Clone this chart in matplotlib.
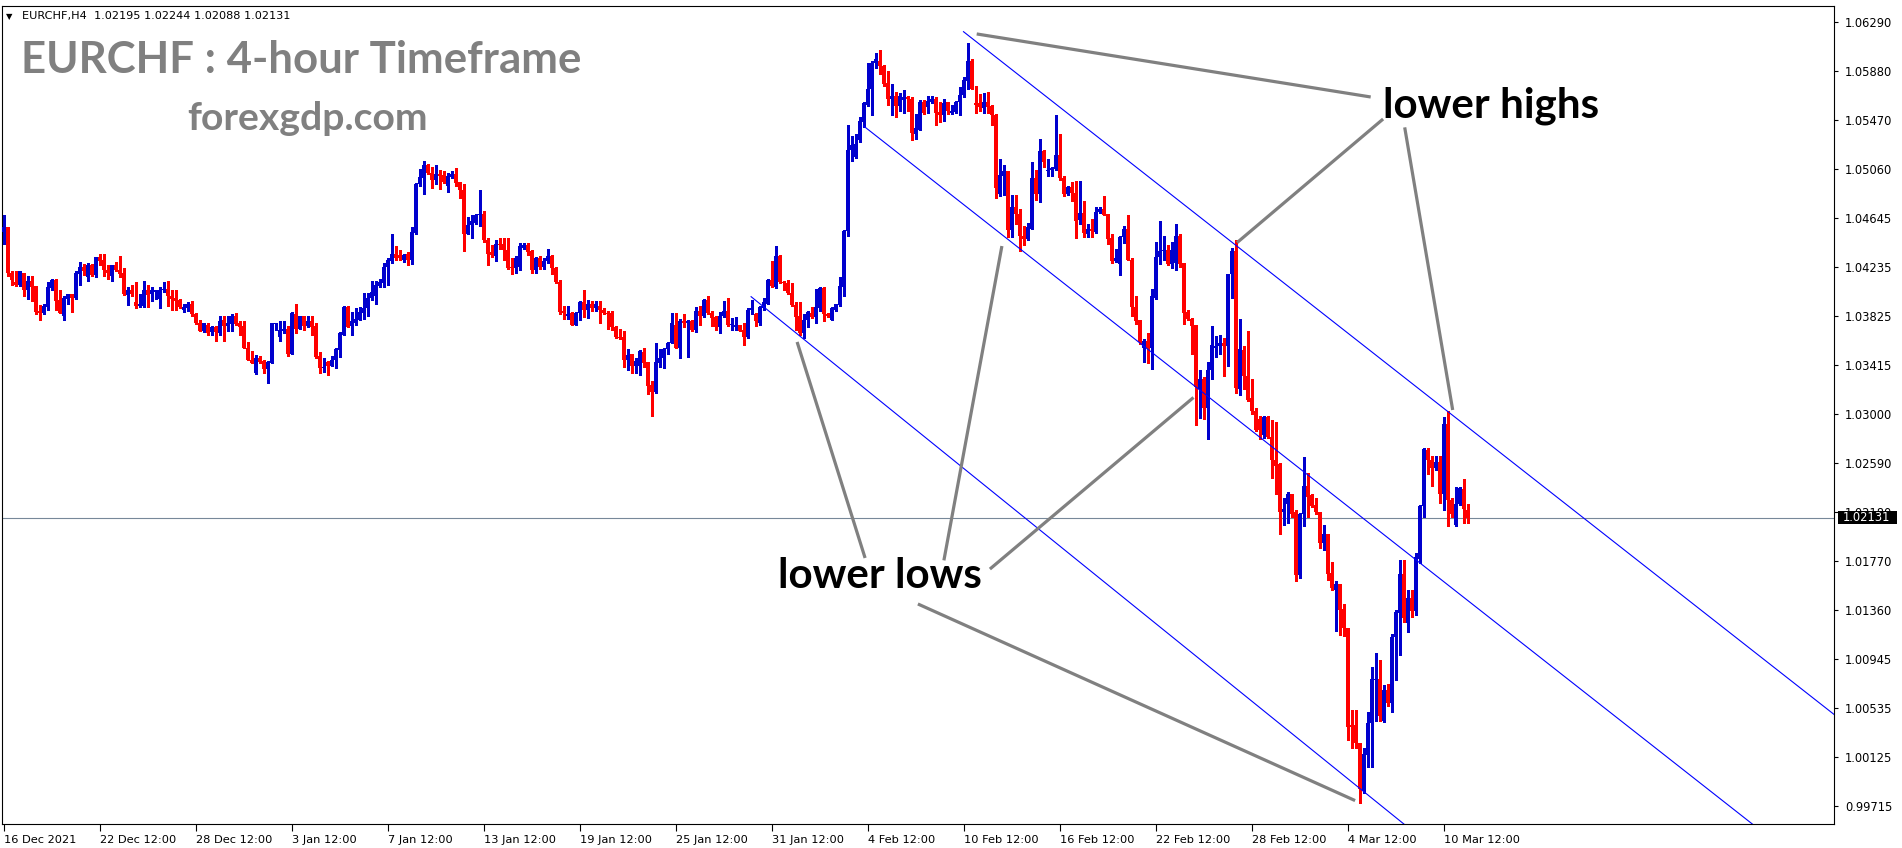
import numpy as np
import matplotlib
matplotlib.use('Agg')
import matplotlib.pyplot as plt
import matplotlib.transforms as mtransforms
from matplotlib.patches import Rectangle

# EURCHF H4 bars, oldest first
opens = [
    1.0453, 1.0457, 1.0419, 1.0411, 1.0409, 1.0419, 1.0404, 1.0412, 1.0408, 1.0387,
    1.0385, 1.0390, 1.0406, 1.0413, 1.0396, 1.0383, 1.0397, 1.0401, 1.0398, 1.0418,
    1.0424, 1.0415, 1.0425, 1.0417, 1.0432, 1.0430, 1.0421, 1.0416, 1.0425, 1.0421,
    1.0419, 1.0400, 1.0404, 1.0394, 1.0391, 1.0391, 1.0404, 1.0401, 1.0403, 1.0397,
    1.0404, 1.0405, 1.0399, 1.0398, 1.0396, 1.0388, 1.0389, 1.0393, 1.0384, 1.0377,
    1.0370, 1.0375, 1.0369, 1.0373, 1.0368, 1.0379, 1.0374, 1.0376, 1.0383, 1.0377,
    1.0374, 1.0356, 1.0346, 1.0335, 1.0347, 1.0345, 1.0338, 1.0343, 1.0376, 1.0365,
    1.0370, 1.0372, 1.0351, 1.0384, 1.0372, 1.0383, 1.0374, 1.0378, 1.0374, 1.0349,
    1.0339, 1.0344, 1.0341, 1.0346, 1.0354, 1.0367, 1.0390, 1.0374, 1.0377, 1.0379,
    1.0385, 1.0389, 1.0398, 1.0399, 1.0408, 1.0410, 1.0424, 1.0429, 1.0435, 1.0434,
    1.0430, 1.0435, 1.0430, 1.0452, 1.0493, 1.0498, 1.0509, 1.0503, 1.0497, 1.0502,
    1.0501, 1.0492, 1.0499, 1.0502, 1.0495, 1.0488, 1.0451, 1.0459, 1.0461, 1.0467,
    1.0468, 1.0446, 1.0436, 1.0433, 1.0443, 1.0443, 1.0438, 1.0424, 1.0423, 1.0424,
    1.0440, 1.0442, 1.0437, 1.0421, 1.0431, 1.0424, 1.0429, 1.0433, 1.0423, 1.0411,
    1.0387, 1.0383, 1.0385, 1.0375, 1.0385, 1.0394, 1.0388, 1.0393, 1.0389, 1.0391,
    1.0388, 1.0385, 1.0385, 1.0373, 1.0365, 1.0365, 1.0346, 1.0351, 1.0341, 1.0341,
    1.0352, 1.0344, 1.0325, 1.0319, 1.0343, 1.0347, 1.0355, 1.0360, 1.0375, 1.0356,
    1.0378, 1.0377, 1.0378, 1.0371, 1.0387, 1.0383, 1.0396, 1.0385, 1.0382, 1.0373,
    1.0383, 1.0387, 1.0375, 1.0373, 1.0375, 1.0371, 1.0365, 1.0388, 1.0384, 1.0377,
    1.0389, 1.0393, 1.0413, 1.0407, 1.0433, 1.0411, 1.0410, 1.0402, 1.0392, 1.0383,
    1.0368, 1.0379, 1.0385, 1.0382, 1.0389, 1.0406, 1.0384, 1.0379, 1.0388, 1.0392,
    1.0407, 1.0454, 1.0522, 1.0516, 1.0530, 1.0545, 1.0560, 1.0573, 1.0595, 1.0597,
    1.0592, 1.0578, 1.0565, 1.0567, 1.0559, 1.0564, 1.0566, 1.0565, 1.0535, 1.0539,
    1.0562, 1.0558, 1.0562, 1.0565, 1.0554, 1.0551, 1.0562, 1.0553, 1.0554, 1.0562,
    1.0568, 1.0580, 1.0597, 1.0561, 1.0561, 1.0557, 1.0562, 1.0559, 1.0551, 1.0485,
    1.0500, 1.0504, 1.0455, 1.0474, 1.0468, 1.0450, 1.0447, 1.0456, 1.0498, 1.0485,
    1.0521, 1.0504, 1.0505, 1.0506, 1.0518, 1.0498, 1.0485, 1.0491, 1.0486, 1.0463,
    1.0469, 1.0451, 1.0456, 1.0453, 1.0470, 1.0472, 1.0468, 1.0448, 1.0429, 1.0426,
    1.0449, 1.0456, 1.0430, 1.0390, 1.0379, 1.0356, 1.0362, 1.0356, 1.0398, 1.0432,
    1.0437, 1.0438, 1.0426, 1.0427, 1.0450, 1.0427, 1.0386, 1.0380, 1.0375, 1.0321,
    1.0330, 1.0305, 1.0337, 1.0356, 1.0357, 1.0360, 1.0357, 1.0418, 1.0437, 1.0321,
    1.0354, 1.0332, 1.0314, 1.0303, 1.0296, 1.0283, 1.0298, 1.0281, 1.0262, 1.0258,
    1.0218, 1.0225, 1.0233, 1.0218, 1.0165, 1.0216, 1.0240, 1.0232, 1.0224, 1.0218,
    1.0192, 1.0200, 1.0167, 1.0153, 1.0158, 1.0137, 1.0121, 1.0039, 1.0039, 1.0024,
    0.9984, 1.0014, 1.0041, 1.0077, 1.0078, 1.0043, 1.0069, 1.0058, 1.0113, 1.0133,
    1.0166, 1.0125, 1.0146, 1.0135, 1.0179, 1.0223, 1.0270, 1.0262, 1.0255, 1.0260,
    1.0233, 1.0292, 1.0228, 1.0207, 1.0225, 1.0237, 1.02195,
]
highs = [
    1.0467, 1.0457, 1.0420, 1.0420, 1.0420, 1.0419, 1.0416, 1.0416, 1.0408, 1.0392,
    1.0393, 1.0411, 1.0414, 1.0414, 1.0404, 1.0399, 1.0401, 1.0401, 1.0420, 1.0428,
    1.0426, 1.0427, 1.0426, 1.0432, 1.0435, 1.0435, 1.0425, 1.0425, 1.0428, 1.0433,
    1.0423, 1.0407, 1.0409, 1.0411, 1.0401, 1.0412, 1.0409, 1.0407, 1.0404, 1.0407,
    1.0411, 1.0412, 1.0404, 1.0404, 1.0397, 1.0393, 1.0394, 1.0395, 1.0385, 1.0379,
    1.0377, 1.0377, 1.0374, 1.0374, 1.0383, 1.0383, 1.0383, 1.0384, 1.0385, 1.0378,
    1.0378, 1.0361, 1.0353, 1.0350, 1.0349, 1.0346, 1.0345, 1.0377, 1.0377, 1.0378,
    1.0378, 1.0374, 1.0386, 1.0393, 1.0383, 1.0383, 1.0383, 1.0383, 1.0377, 1.0352,
    1.0347, 1.0345, 1.0349, 1.0356, 1.0369, 1.0391, 1.0391, 1.0386, 1.0389, 1.0390,
    1.0402, 1.0402, 1.0412, 1.0412, 1.0414, 1.0427, 1.0431, 1.0451, 1.0441, 1.0438,
    1.0435, 1.0436, 1.0457, 1.0494, 1.0506, 1.0513, 1.0510, 1.0508, 1.0509, 1.0505,
    1.0504, 1.0503, 1.0504, 1.0507, 1.0495, 1.0493, 1.0466, 1.0467, 1.0468, 1.0488,
    1.0471, 1.0448, 1.0442, 1.0446, 1.0448, 1.0448, 1.0448, 1.0431, 1.0433, 1.0444,
    1.0444, 1.0444, 1.0438, 1.0432, 1.0433, 1.0431, 1.0439, 1.0434, 1.0424, 1.0413,
    1.0391, 1.0391, 1.0386, 1.0386, 1.0395, 1.0404, 1.0396, 1.0395, 1.0395, 1.0395,
    1.0389, 1.0387, 1.0387, 1.0374, 1.0372, 1.0370, 1.0355, 1.0351, 1.0347, 1.0354,
    1.0356, 1.0344, 1.0328, 1.0360, 1.0355, 1.0356, 1.0361, 1.0385, 1.0385, 1.0380,
    1.0384, 1.0379, 1.0379, 1.0390, 1.0391, 1.0397, 1.0399, 1.0387, 1.0383, 1.0386,
    1.0395, 1.0398, 1.0381, 1.0382, 1.0375, 1.0377, 1.0389, 1.0396, 1.0385, 1.0391,
    1.0398, 1.0414, 1.0429, 1.0441, 1.0434, 1.0412, 1.0413, 1.0410, 1.0394, 1.0394,
    1.0384, 1.0387, 1.0390, 1.0405, 1.0407, 1.0407, 1.0385, 1.0390, 1.0393, 1.0415,
    1.0455, 1.0543, 1.0534, 1.0535, 1.0550, 1.0562, 1.0595, 1.0597, 1.0603, 1.0606,
    1.0593, 1.0588, 1.0577, 1.0571, 1.0570, 1.0572, 1.0567, 1.0566, 1.0552, 1.0564,
    1.0564, 1.0567, 1.0567, 1.0566, 1.0562, 1.0565, 1.0562, 1.0560, 1.0563, 1.0575,
    1.0583, 1.0612, 1.0598, 1.0576, 1.0569, 1.0570, 1.0571, 1.0560, 1.0552, 1.0514,
    1.0509, 1.0504, 1.0484, 1.0484, 1.0472, 1.0458, 1.0461, 1.0512, 1.0505, 1.0531,
    1.0522, 1.0514, 1.0508, 1.0551, 1.0535, 1.0500, 1.0492, 1.0495, 1.0496, 1.0496,
    1.0479, 1.0460, 1.0464, 1.0474, 1.0474, 1.0483, 1.0468, 1.0451, 1.0439, 1.0450,
    1.0458, 1.0467, 1.0431, 1.0399, 1.0379, 1.0363, 1.0368, 1.0405, 1.0445, 1.0462,
    1.0450, 1.0442, 1.0445, 1.0460, 1.0451, 1.0427, 1.0388, 1.0381, 1.0375, 1.0337,
    1.0331, 1.0344, 1.0374, 1.0366, 1.0367, 1.0364, 1.0418, 1.0440, 1.0446, 1.0380,
    1.0357, 1.0370, 1.0330, 1.0305, 1.0299, 1.0299, 1.0299, 1.0295, 1.0294, 1.0259,
    1.0230, 1.0235, 1.0233, 1.0220, 1.0217, 1.0264, 1.0251, 1.0233, 1.0230, 1.0218,
    1.0207, 1.0200, 1.0176, 1.0160, 1.0158, 1.0141, 1.0121, 1.0052, 1.0052, 1.0024,
    1.0020, 1.0050, 1.0088, 1.0100, 1.0094, 1.0073, 1.0074, 1.0116, 1.0136, 1.0178,
    1.0178, 1.0153, 1.0153, 1.0184, 1.0224, 1.0272, 1.0272, 1.0265, 1.0265, 1.0265,
    1.0298, 1.0303, 1.0230, 1.0239, 1.0239, 1.0246, 1.02244,
]
lows = [
    1.0443, 1.0416, 1.0409, 1.0408, 1.0408, 1.0399, 1.0397, 1.0395, 1.0384, 1.0379,
    1.0384, 1.0388, 1.0404, 1.0388, 1.0385, 1.0379, 1.0393, 1.0386, 1.0397, 1.0409,
    1.0417, 1.0412, 1.0416, 1.0415, 1.0425, 1.0416, 1.0414, 1.0412, 1.0420, 1.0415,
    1.0400, 1.0392, 1.0399, 1.0389, 1.0390, 1.0390, 1.0390, 1.0395, 1.0397, 1.0389,
    1.0403, 1.0391, 1.0388, 1.0388, 1.0389, 1.0386, 1.0387, 1.0383, 1.0376, 1.0370,
    1.0369, 1.0367, 1.0367, 1.0362, 1.0367, 1.0362, 1.0370, 1.0370, 1.0375, 1.0367,
    1.0356, 1.0346, 1.0343, 1.0334, 1.0343, 1.0335, 1.0326, 1.0343, 1.0371, 1.0362,
    1.0368, 1.0349, 1.0351, 1.0368, 1.0372, 1.0371, 1.0373, 1.0367, 1.0347, 1.0335,
    1.0336, 1.0333, 1.0341, 1.0339, 1.0348, 1.0367, 1.0373, 1.0367, 1.0375, 1.0379,
    1.0380, 1.0383, 1.0396, 1.0393, 1.0407, 1.0407, 1.0409, 1.0427, 1.0430, 1.0430,
    1.0428, 1.0425, 1.0426, 1.0451, 1.0492, 1.0485, 1.0502, 1.0490, 1.0493, 1.0489,
    1.0494, 1.0487, 1.0498, 1.0492, 1.0482, 1.0437, 1.0451, 1.0448, 1.0460, 1.0458,
    1.0445, 1.0425, 1.0432, 1.0429, 1.0439, 1.0430, 1.0422, 1.0418, 1.0419, 1.0421,
    1.0439, 1.0434, 1.0419, 1.0419, 1.0422, 1.0422, 1.0427, 1.0418, 1.0410, 1.0384,
    1.0380, 1.0380, 1.0375, 1.0375, 1.0379, 1.0382, 1.0381, 1.0387, 1.0387, 1.0377,
    1.0384, 1.0372, 1.0371, 1.0364, 1.0363, 1.0340, 1.0337, 1.0335, 1.0335, 1.0333,
    1.0340, 1.0317, 1.0299, 1.0318, 1.0340, 1.0339, 1.0351, 1.0360, 1.0356, 1.0347,
    1.0373, 1.0348, 1.0370, 1.0369, 1.0375, 1.0382, 1.0384, 1.0374, 1.0371, 1.0368,
    1.0382, 1.0374, 1.0371, 1.0371, 1.0370, 1.0358, 1.0364, 1.0384, 1.0374, 1.0375,
    1.0388, 1.0393, 1.0407, 1.0406, 1.0410, 1.0404, 1.0401, 1.0391, 1.0371, 1.0367,
    1.0364, 1.0373, 1.0381, 1.0377, 1.0387, 1.0378, 1.0382, 1.0379, 1.0387, 1.0391,
    1.0399, 1.0450, 1.0513, 1.0515, 1.0529, 1.0541, 1.0559, 1.0551, 1.0591, 1.0586,
    1.0576, 1.0560, 1.0551, 1.0550, 1.0555, 1.0553, 1.0555, 1.0530, 1.0531, 1.0539,
    1.0552, 1.0553, 1.0561, 1.0543, 1.0545, 1.0546, 1.0552, 1.0552, 1.0553, 1.0551,
    1.0566, 1.0573, 1.0573, 1.0553, 1.0555, 1.0553, 1.0553, 1.0543, 1.0482, 1.0483,
    1.0484, 1.0449, 1.0449, 1.0460, 1.0437, 1.0442, 1.0446, 1.0456, 1.0480, 1.0478,
    1.0508, 1.0500, 1.0500, 1.0505, 1.0497, 1.0483, 1.0484, 1.0479, 1.0448, 1.0460,
    1.0449, 1.0449, 1.0449, 1.0452, 1.0469, 1.0467, 1.0443, 1.0427, 1.0428, 1.0417,
    1.0444, 1.0430, 1.0383, 1.0376, 1.0359, 1.0344, 1.0343, 1.0338, 1.0397, 1.0426,
    1.0430, 1.0425, 1.0423, 1.0421, 1.0424, 1.0376, 1.0379, 1.0351, 1.0291, 1.0297,
    1.0296, 1.0279, 1.0330, 1.0348, 1.0351, 1.0332, 1.0341, 1.0398, 1.0318, 1.0316,
    1.0321, 1.0311, 1.0300, 1.0286, 1.0279, 1.0280, 1.0280, 1.0247, 1.0233, 1.0200,
    1.0207, 1.0209, 1.0214, 1.0160, 1.0163, 1.0206, 1.0214, 1.0222, 1.0216, 1.0188,
    1.0186, 1.0161, 1.0153, 1.0118, 1.0115, 1.0114, 1.0027, 1.0020, 1.0020, 0.9974,
    0.9982, 1.0004, 1.0004, 1.0043, 1.0043, 1.0042, 1.0055, 1.0050, 1.0077, 1.0098,
    1.0126, 1.0117, 1.0130, 1.0132, 1.0175, 1.0214, 1.0250, 1.0240, 1.0253, 1.0226,
    1.0220, 1.0206, 1.0214, 1.0206, 1.0224, 1.0209, 1.02088,
]
closes = [
    1.0457, 1.0419, 1.0413, 1.0409, 1.0420, 1.0404, 1.0412, 1.0407, 1.0386, 1.0385,
    1.0391, 1.0407, 1.0413, 1.0395, 1.0385, 1.0398, 1.0401, 1.0398, 1.0419, 1.0424,
    1.0420, 1.0425, 1.0417, 1.0432, 1.0429, 1.0421, 1.0419, 1.0425, 1.0421, 1.0418,
    1.0401, 1.0404, 1.0401, 1.0391, 1.0393, 1.0404, 1.0400, 1.0404, 1.0404, 1.0404,
    1.0405, 1.0399, 1.0397, 1.0395, 1.0390, 1.0390, 1.0393, 1.0384, 1.0377, 1.0370,
    1.0377, 1.0368, 1.0373, 1.0369, 1.0378, 1.0374, 1.0377, 1.0383, 1.0376, 1.0373,
    1.0356, 1.0346, 1.0343, 1.0347, 1.0344, 1.0338, 1.0344, 1.0377, 1.0377, 1.0371,
    1.0372, 1.0351, 1.0385, 1.0372, 1.0383, 1.0374, 1.0378, 1.0373, 1.0348, 1.0339,
    1.0340, 1.0341, 1.0346, 1.0355, 1.0368, 1.0390, 1.0373, 1.0378, 1.0380, 1.0386,
    1.0389, 1.0398, 1.0403, 1.0409, 1.0411, 1.0424, 1.0430, 1.0435, 1.0431, 1.0431,
    1.0434, 1.0430, 1.0453, 1.0493, 1.0499, 1.0509, 1.0503, 1.0497, 1.0502, 1.0500,
    1.0495, 1.0500, 1.0502, 1.0494, 1.0488, 1.0451, 1.0459, 1.0462, 1.0467, 1.0468,
    1.0446, 1.0435, 1.0434, 1.0443, 1.0442, 1.0438, 1.0423, 1.0423, 1.0431, 1.0441,
    1.0442, 1.0436, 1.0421, 1.0431, 1.0424, 1.0429, 1.0433, 1.0423, 1.0411, 1.0386,
    1.0385, 1.0384, 1.0375, 1.0385, 1.0394, 1.0388, 1.0393, 1.0389, 1.0393, 1.0388,
    1.0385, 1.0384, 1.0373, 1.0365, 1.0364, 1.0346, 1.0350, 1.0341, 1.0345, 1.0353,
    1.0343, 1.0324, 1.0319, 1.0344, 1.0347, 1.0355, 1.0360, 1.0377, 1.0356, 1.0378,
    1.0377, 1.0378, 1.0371, 1.0387, 1.0383, 1.0396, 1.0385, 1.0381, 1.0373, 1.0383,
    1.0387, 1.0375, 1.0376, 1.0375, 1.0370, 1.0365, 1.0388, 1.0389, 1.0378, 1.0390,
    1.0394, 1.0413, 1.0408, 1.0433, 1.0411, 1.0410, 1.0402, 1.0392, 1.0382, 1.0368,
    1.0379, 1.0386, 1.0382, 1.0390, 1.0406, 1.0384, 1.0383, 1.0389, 1.0393, 1.0408,
    1.0454, 1.0522, 1.0526, 1.0527, 1.0546, 1.0561, 1.0573, 1.0595, 1.0598, 1.0592,
    1.0577, 1.0565, 1.0567, 1.0559, 1.0567, 1.0566, 1.0565, 1.0536, 1.0540, 1.0562,
    1.0553, 1.0563, 1.0565, 1.0553, 1.0551, 1.0561, 1.0555, 1.0555, 1.0562, 1.0568,
    1.0581, 1.0597, 1.0573, 1.0560, 1.0558, 1.0562, 1.0558, 1.0551, 1.0490, 1.0501,
    1.0504, 1.0455, 1.0474, 1.0468, 1.0450, 1.0447, 1.0457, 1.0498, 1.0485, 1.0521,
    1.0512, 1.0505, 1.0507, 1.0518, 1.0498, 1.0485, 1.0491, 1.0486, 1.0462, 1.0469,
    1.0452, 1.0456, 1.0454, 1.0470, 1.0472, 1.0467, 1.0447, 1.0429, 1.0431, 1.0449,
    1.0456, 1.0430, 1.0390, 1.0378, 1.0361, 1.0362, 1.0356, 1.0399, 1.0432, 1.0437,
    1.0438, 1.0426, 1.0438, 1.0450, 1.0426, 1.0385, 1.0380, 1.0374, 1.0323, 1.0330,
    1.0305, 1.0337, 1.0358, 1.0357, 1.0360, 1.0357, 1.0418, 1.0437, 1.0322, 1.0355,
    1.0332, 1.0312, 1.0303, 1.0287, 1.0287, 1.0298, 1.0281, 1.0262, 1.0257, 1.0218,
    1.0221, 1.0233, 1.0216, 1.0165, 1.0216, 1.0240, 1.0231, 1.0223, 1.0218, 1.0192,
    1.0200, 1.0166, 1.0154, 1.0158, 1.0136, 1.0121, 1.0038, 1.0038, 1.0024, 0.9986,
    1.0015, 1.0041, 1.0078, 1.0078, 1.0047, 1.0069, 1.0058, 1.0113, 1.0134, 1.0166,
    1.0129, 1.0146, 1.0135, 1.0180, 1.0223, 1.0271, 1.0262, 1.0255, 1.0260, 1.0233,
    1.0292, 1.0228, 1.0216, 1.0225, 1.0238, 1.0221, 1.02131,
]

price_ticks = [1.06290, 1.05880, 1.05470, 1.05060, 1.04645, 1.04235, 1.03825, 1.03415,
               1.03000, 1.02590, 1.02180, 1.01770, 1.01360, 1.00945, 1.00535, 1.00125, 0.99715]
date_bars = [0, 24, 48, 72, 96, 120, 144, 168, 192, 216, 240, 264, 288, 312, 336, 360]
date_labels = ['16 Dec 2021', '22 Dec 12:00', '28 Dec 12:00', '3 Jan 12:00', '7 Jan 12:00',
               '13 Jan 12:00', '19 Jan 12:00', '25 Jan 12:00', '31 Jan 12:00', '4 Feb 12:00',
               '10 Feb 12:00', '16 Feb 12:00', '22 Feb 12:00', '28 Feb 12:00', '4 Mar 12:00',
               '10 Mar 12:00']
last_price = 1.02131
info_text = 'EURCHF,H4  1.02195 1.02244 1.02088 1.02131'

# blue channel: start point and a second point on each line (bar, price)
channel_lines = [((240.0, 1.06212), (369.1, 1.02813)),
                 ((215.0, 1.05421), (369.1, 1.01358)),
                 ((186.9, 1.03988), (346.6, 0.99657))]
# grey pointer lines (bar, price) -> (bar, price)
highs_pointers = [((243.3, 1.06193), (341.8, 1.05664)),
                  ((344.9, 1.05479), (308.4, 1.04442)),
                  ((350.3, 1.05409), (362.3, 1.03037))]
lows_pointers = [((215.4, 1.01795), (198.4, 1.03608)),
                 ((235.1, 1.01775), (249.6, 1.04413)),
                 ((246.6, 1.01702), (297.5, 1.03142)),
                 ((228.6, 1.01409), (337.9, 0.99759))]

BULL = '#0000CD'
BEAR = '#FF0000'
GREY = '#808080'
W, H = 1902, 848


def fx(px):
    return px / W


def fy(py):
    return 1 - py / H


def plot_chart():
    fig = plt.figure(figsize=(W / 100, H / 100), dpi=100)
    ax = fig.add_axes([fx(2), fy(823.7), 1832 / W, 817.7 / H])

    o = np.array(opens)
    h = np.array(highs)
    l = np.array(lows)
    c = np.array(closes)
    x = np.arange(len(c))
    cols = np.where(c >= o, BULL, BEAR)

    # candles
    ax.vlines(x, l, h, colors=cols, linewidth=0.8, antialiased=False, zorder=2)
    body = np.maximum(np.abs(c - o), 0.00008)
    ax.bar(x, body, bottom=np.minimum(o, c), width=0.75, color=cols,
           linewidth=0, antialiased=False, zorder=3)

    ax.set_xlim(-0.375, 457.625)
    ax.set_ylim(0.995649, 1.064276)

    # channel lines, extended to the right
    for (x0, y0), (x1, y1) in channel_lines:
        slope = (y1 - y0) / (x1 - x0)
        ax.plot([x0, 600], [y0, y0 + slope * (600 - x0)], color='#0000FF', lw=0.8, zorder=4)

    # bid line
    ax.axhline(last_price, color='#778899', lw=0.8, zorder=1)

    for (x0, y0), (x1, y1) in highs_pointers + lows_pointers:
        ax.plot([x0, x1], [y0, y1], color=GREY, lw=2.3, solid_capstyle='butt', zorder=5)

    # axes styling
    for sp in ax.spines.values():
        sp.set_linewidth(0.8)
        sp.set_color('black')
    ax.yaxis.tick_right()
    ax.set_yticks(price_ticks)
    ax.set_yticklabels(['%.5f' % p for p in price_ticks])
    ax.set_xticks(date_bars)
    ax.set_xticklabels(date_labels)
    for lbl in ax.get_xticklabels():
        lbl.set_horizontalalignment('left')
    ax.tick_params(axis='y', direction='out', length=3, width=0.8, pad=5, labelsize=8.3)
    ax.tick_params(axis='x', direction='out', length=5, width=0.8, pad=3, labelsize=8.2)

    # current price box on the scale (covers most of the 1.02180 label, as in MT4)
    trans = mtransforms.blended_transform_factory(ax.transAxes, ax.transData)
    half = 6.5 / 11915
    ax.add_patch(Rectangle((1.0 + 4 / 1832, last_price - half), 59 / 1832, 2 * half,
                           transform=trans, facecolor='black', edgecolor='none',
                           clip_on=False, zorder=9))
    ax.text(1.0 + 9 / 1832, last_price, '%.5f' % last_price, transform=trans,
            ha='left', va='center', fontsize=8.3, color='white', clip_on=False, zorder=10)

    # header texts
    fig.text(fx(5.5), fy(16.5), '\u25bc', fontsize=6, va='center', ha='left')
    fig.text(fx(22), fy(16.5), info_text, fontsize=8.1, va='center', ha='left')
    fig.text(fx(21), fy(72.8), 'EURCHF : 4-hour Timeframe', fontsize=31.5,
             family='Lato', weight='bold', color=GREY, va='baseline', ha='left')
    fig.text(fx(187), fy(129.8), 'forexgdp.com', fontsize=28.2,
             family='Lato', weight='bold', color=GREY, va='baseline', ha='left')

    # annotation labels
    fig.text(fx(1383), fy(117.7), 'lower highs', fontsize=30.3, family='Lato',
             weight='bold', color='black', va='baseline', ha='left')
    fig.text(fx(777.5), fy(588), 'lower lows', fontsize=30.3, family='Lato',
             weight='bold', color='black', va='baseline', ha='left')

    fig.savefig('out.png', dpi=100)


if __name__ == '__main__':
    plot_chart()
